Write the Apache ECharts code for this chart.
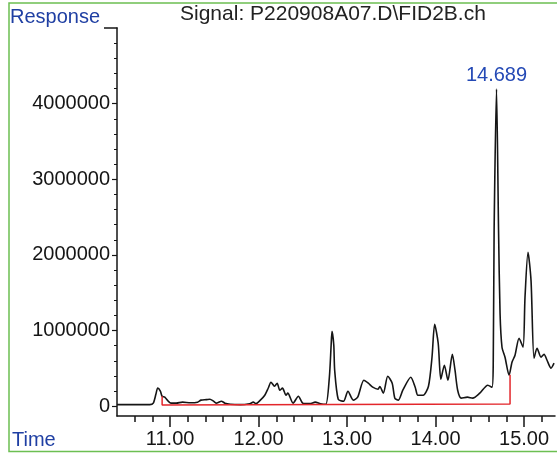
<!DOCTYPE html>
<html>
<head>
<meta charset="utf-8">
<title>FID2B</title>
<script src="https://cdn.jsdelivr.net/npm/echarts@6.0.0/dist/echarts.min.js"></script>
<style>
	html, body { margin: 0; padding: 0; background: #fff; }
	#Icon { width: 557px; height: 454px; }
</style>
</head>
<body>
<div id="Icon"></div>
<script>
// retention time (min) and detector response
var times = [10.40, 10.77, 10.81, 10.84, 10.86, 10.89, 10.91, 10.94, 10.98, 11.01,
	11.07, 11.14, 11.23, 11.31, 11.35, 11.41, 11.45, 11.49, 11.52, 11.58,
	11.62, 11.68, 11.79, 11.90, 11.94, 11.97, 12.02, 12.07, 12.11, 12.14,
	12.18, 12.21, 12.24, 12.27, 12.31, 12.33, 12.39, 12.45, 12.50, 12.58,
	12.64, 12.70, 12.76, 12.80, 12.82, 12.83, 12.85, 12.86, 12.90, 12.96,
	13.01, 13.07, 13.12, 13.19, 13.24, 13.29, 13.35, 13.37, 13.41, 13.46,
	13.51, 13.54, 13.58, 13.63, 13.72, 13.77, 13.80, 13.86, 13.92, 13.96,
	13.99, 14.03, 14.06, 14.10, 14.14, 14.19, 14.22, 14.25, 14.29, 14.36,
	14.42, 14.50, 14.59, 14.638, 14.652, 14.662, 14.689, 14.712, 14.729, 14.751,
	14.785, 14.831, 14.864, 14.898, 14.944, 14.989, 15.011, 15.045, 15.079, 15.113,
	15.147, 15.192, 15.226, 15.260, 15.305, 15.339];
var response = [20000, 20000, 40000, 160000, 240000, 200000, 130000, 120000, 65000, 40000,
	40000, 53000, 46000, 53000, 80000, 86000, 92000, 66000, 40000, 66000,
	40000, 26000, 20000, 33000, 53000, 33000, 80000, 145000, 240000, 317000,
	264000, 304000, 211000, 238000, 145000, 172000, 40000, 132000, 40000, 33000,
	53000, 33000, 26000, 383000, 805000, 990000, 805000, 475000, 92000, 66000,
	198000, 80000, 119000, 343000, 304000, 251000, 224000, 260000, 172000, 396000,
	304000, 106000, 80000, 211000, 383000, 251000, 145000, 145000, 264000, 647000,
	1082000, 832000, 356000, 541000, 343000, 686000, 475000, 211000, 106000, 119000,
	106000, 172000, 277000, 251000, 568000, 2330000, 4194000, 2330000, 1228000, 779000,
	647000, 409000, 581000, 673000, 898000, 779000, 1439000, 2033000, 1663000, 634000,
	766000, 647000, 686000, 607000, 502000, 568000];

// integration baseline (red)
var baseTimes = [10.91, 10.91, 14.842, 14.842];
var baseValues = [130000, 15000, 30000, 415000];

var peakTime = 14.689;
var xTicks = [11, 12, 13, 14, 15];
var yTicks = [0, 1000000, 2000000, 3000000, 4000000];

var xMinor = [];
for (var i = 53; i <= 76; i++) {
	if (i % 5) xMinor.push(i / 5);
}
var yMinor = [];
for (var j = 1; j <= 24; j++) {
	if (j % 5) yMinor.push(j * 200000);
}

var font = '"Liberation Sans", Arial, sans-serif';
var ink = '#151515';
var blue = '#1f3fa3';

var traceData = times.map(function(t, k) {
	if (t === peakTime) {
		return {
			value: [t, response[k]],
			label: {
				show: true,
				position: 'top',
				distance: 3,
				formatter: peakTime.toFixed(3),
				color: '#2449b5',
				fontSize: 20,
				fontFamily: font
			}
		};
	}
	return [t, response[k]];
});
var baseData = baseTimes.map(function(t, k) {
	return [t, baseValues[k]];
});

var dom = document.getElementById("Icon");
var myChart = echarts.init(dom);
var option = {
	animation: false,
	backgroundColor: '#fff',
	grid: {
		left: 117,
		right: 2,
		top: 28,
		bottom: 38
	},
	xAxis: [{
		type: 'value',
		min: 10.4,
		max: 15.35,
		position: 'bottom',
		splitLine: { show: false },
		axisLine: { onZero: false, lineStyle: { color: ink, width: 1.5 } },
		axisTick: {
			customValues: xTicks,
			length: 11,
			lineStyle: { color: ink, width: 1.5 }
		},
		axisLabel: {
			customValues: xTicks,
			margin: 13,
			color: ink,
			fontSize: 20,
			fontFamily: font,
			formatter: function(v) { return v.toFixed(2); }
		}
	}, {
		type: 'value',
		min: 10.4,
		max: 15.35,
		position: 'bottom',
		splitLine: { show: false },
		axisLine: { show: false, onZero: false },
		axisLabel: { show: false },
		axisTick: {
			customValues: xMinor,
			length: 6,
			lineStyle: { color: ink, width: 1.5 }
		}
	}],
	yAxis: [{
		type: 'value',
		min: -130000,
		max: 5000000,
		position: 'left',
		splitLine: { show: false },
		axisLine: { show: true, onZero: false, lineStyle: { color: ink, width: 1.5 } },
		axisTick: {
			show: true,
			customValues: yTicks,
			length: 5,
			lineStyle: { color: ink, width: 1.2 }
		},
		axisLabel: {
			customValues: yTicks,
			margin: 7,
			color: ink,
			fontSize: 20,
			fontFamily: font,
			formatter: function(v) { return String(Math.round(v)); }
		}
	}, {
		type: 'value',
		min: -130000,
		max: 5000000,
		position: 'left',
		splitLine: { show: false },
		axisLine: { show: false, onZero: false },
		axisLabel: { show: false },
		axisTick: {
			show: true,
			customValues: yMinor,
			length: 3,
			lineStyle: { color: ink, width: 1 }
		}
	}],
	graphic: [{
		type: 'rect',
		shape: { x: 9, y: 3, width: 560, height: 448.5 },
		style: { fill: 'none', stroke: '#6cbf52', lineWidth: 1.5 }
	}, {
		type: 'line',
		shape: { x1: 104, y1: 28, x2: 117.5, y2: 28 },
		style: { stroke: ink, lineWidth: 1.5 }
	}, {
		type: 'text',
		x: 10,
		y: 17,
		style: { text: 'Response', fill: blue, font: '20px ' + font, verticalAlign: 'middle' }
	}, {
		type: 'text',
		x: 180,
		y: 14.5,
		style: { text: 'Signal: P220908A07.D\\FID2B.ch', fill: '#222', font: '21px ' + font, verticalAlign: 'middle' }
	}, {
		type: 'text',
		x: 12,
		y: 440,
		style: { text: 'Time', fill: blue, font: '20px ' + font, verticalAlign: 'middle' }
	}],
	series: [{
		type: 'line',
		data: traceData,
		showSymbol: true,
		symbol: 'circle',
		symbolSize: 0,
		smooth: 0.25,
		lineStyle: { color: ink, width: 1.6 },
		z: 3
	}, {
		type: 'line',
		data: baseData,
		showSymbol: false,
		symbol: 'none',
		lineStyle: { color: '#e3262b', width: 1.5 },
		z: 4
	}]
};
if (option && typeof option === "object") {
	myChart.setOption(option, true);
}
</script>
</body>
</html>
